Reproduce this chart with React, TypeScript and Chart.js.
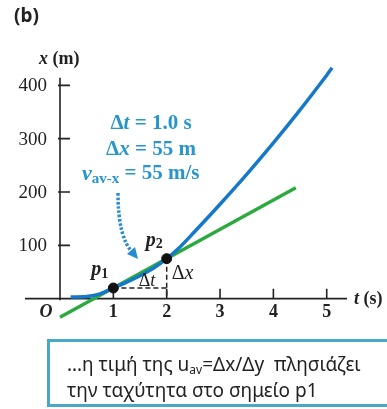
import React, { useEffect, useRef } from "react";
import { Chart, registerables } from "chart.js";

Chart.register(...registerables);

// ---- data ----
const curveT = [0.2, 0.5, 0.75, 1, 1.25, 1.5, 1.75, 2, 2.25, 2.5, 3, 3.5, 4, 4.5, 5, 5.1];
const curveX = [3, 4, 9, 20, 31, 43, 57, 75, 97, 123, 177, 233, 292, 354, 419, 433];
const tangentT = [0, 4.42];
const tangentX = [-35, 208];
const pointT = [1, 2];
const pointX = [20, 75];
const xTicks = [1, 2, 3, 4, 5];
const yTicks = [100, 200, 300, 400];
const xRange = [-0.656, 5.38];
const yRange = [-40, 440];

const SERIF = '"Liberation Serif", "DejaVu Serif", serif';
const SANS = '"Noto Sans", "Open Sans", sans-serif';
const BLUE_TEXT = "rgb(38,150,205)";

type Run = { t: string; f: string; dy?: number };

function drawRuns(
  ctx: CanvasRenderingContext2D,
  runs: Run[],
  x: number,
  y: number,
  align: "left" | "center" | "right"
) {
  let w = 0;
  for (const r of runs) {
    ctx.font = r.f;
    w += ctx.measureText(r.t).width;
  }
  let cx = align === "left" ? x : align === "center" ? x - w / 2 : x - w;
  ctx.textAlign = "left";
  for (const r of runs) {
    ctx.font = r.f;
    ctx.fillText(r.t, cx, y + (r.dy || 0));
    cx += ctx.measureText(r.t).width;
  }
}

const axesPlugin = {
  id: "physAxes",
  beforeDatasetsDraw(chart: any) {
    const { ctx } = chart;
    const xs = chart.scales.x;
    const ys = chart.scales.y;
    const x0 = xs.getPixelForValue(0);
    const y0 = ys.getPixelForValue(0);
    ctx.save();
    ctx.strokeStyle = "#222";
    ctx.lineWidth = 1.6;
    ctx.beginPath();
    ctx.moveTo(xs.getPixelForValue(xRange[0]), y0);
    ctx.lineTo(xs.getPixelForValue(xRange[1]), y0);
    ctx.moveTo(x0, ys.getPixelForValue(-3));
    ctx.lineTo(x0, ys.getPixelForValue(414));
    for (const v of yTicks) {
      const py = ys.getPixelForValue(v);
      ctx.moveTo(x0 - 2, py);
      ctx.lineTo(x0 + 10, py);
    }
    for (const v of xTicks) {
      const px = xs.getPixelForValue(v);
      ctx.moveTo(px, y0);
      ctx.lineTo(px, y0 - 10);
    }
    ctx.stroke();

    ctx.fillStyle = "#222";
    ctx.textBaseline = "middle";
    for (const v of yTicks) {
      drawRuns(ctx, [{ t: String(v), f: `19px ${SERIF}` }], x0 - 13, ys.getPixelForValue(v) + 1, "right");
    }
    for (const v of xTicks) {
      drawRuns(ctx, [{ t: String(v), f: `bold 18px ${SERIF}` }], xs.getPixelForValue(v), y0 + 14, "center");
    }
    drawRuns(ctx, [{ t: "O", f: `italic bold 18px ${SERIF}` }], x0 - 14, y0 + 14, "center");
    drawRuns(
      ctx,
      [
        { t: "t", f: `italic bold 18px ${SERIF}` },
        { t: " (s)", f: `bold 18px ${SERIF}` },
      ],
      xs.getPixelForValue(xRange[1]) + 7,
      y0 + 1,
      "left"
    );
    drawRuns(
      ctx,
      [
        { t: "x", f: `italic bold 18px ${SERIF}` },
        { t: " (m)", f: `bold 18px ${SERIF}` },
      ],
      x0 - 21,
      ys.getPixelForValue(449),
      "left"
    );
    ctx.restore();
  },
  afterDatasetsDraw(chart: any) {
    const { ctx } = chart;
    const xs = chart.scales.x;
    const ys = chart.scales.y;
    ctx.save();
    ctx.textBaseline = "middle";
    ctx.fillStyle = "#222";

    // (b)
    drawRuns(ctx, [{ t: "(b)", f: `bold 19px ${SANS}` }], 14, 17, "left");

    // p labels
    const p1x = xs.getPixelForValue(pointT[0]);
    const p1y = ys.getPixelForValue(pointX[0]);
    const p2x = xs.getPixelForValue(pointT[1]);
    const p2y = ys.getPixelForValue(pointX[1]);
    drawRuns(
      ctx,
      [
        { t: "p", f: `italic bold 20px ${SERIF}` },
        { t: "1", f: `bold 14px ${SERIF}`, dy: 4 },
      ],
      p1x - 22,
      p1y - 18,
      "left"
    );
    drawRuns(
      ctx,
      [
        { t: "p", f: `italic bold 20px ${SERIF}` },
        { t: "2", f: `bold 14px ${SERIF}`, dy: 4 },
      ],
      p2x - 21,
      p2y - 18,
      "left"
    );
    // Δt, Δx
    drawRuns(
      ctx,
      [
        { t: "Δ", f: `18px ${SERIF}` },
        { t: "t", f: `italic 18px ${SERIF}` },
      ],
      (p1x + p2x) / 2 + 7,
      p1y - 7,
      "center"
    );
    drawRuns(
      ctx,
      [
        { t: "Δ", f: `20px ${SERIF}` },
        { t: "x", f: `italic 20px ${SERIF}` },
      ],
      p2x + 5,
      (p2y + ys.getPixelForValue(0)) / 2 - 5,
      "left"
    );

    // blue annotation
    ctx.fillStyle = BLUE_TEXT;
    const bf = `bold 21px ${SERIF}`;
    const bi = `italic bold 21px ${SERIF}`;
    drawRuns(ctx, [{ t: "Δ", f: bf }, { t: "t", f: bi }, { t: " = 1.0 s", f: bf }], 151, 124, "center");
    drawRuns(ctx, [{ t: "Δ", f: bf }, { t: "x", f: bi }, { t: " = 55 m", f: bf }], 151, 150, "center");
    drawRuns(
      ctx,
      [
        { t: "v", f: `italic bold 22px ${SERIF}` },
        { t: "av-x", f: `bold 15px ${SERIF}`, dy: 5 },
        { t: " = 55 m/s", f: bf },
      ],
      82,
      174,
      "left"
    );

    // dotted arrow
    ctx.strokeStyle = "rgb(40,140,210)";
    ctx.lineWidth = 3.5;
    ctx.setLineDash([2.5, 1.8]);
    ctx.beginPath();
    ctx.moveTo(118, 193);
    ctx.quadraticCurveTo(118, 238, 133, 253);
    ctx.stroke();
    ctx.setLineDash([]);
    ctx.fillStyle = "rgb(40,140,210)";
    ctx.beginPath();
    ctx.moveTo(138, 259);
    ctx.lineTo(127, 254);
    ctx.lineTo(135, 247);
    ctx.closePath();
    ctx.fill();

    // note box
    ctx.strokeStyle = "rgb(72,168,200)";
    ctx.lineWidth = 3;
    ctx.strokeRect(48.5, 340.5, 342, 65);
    ctx.fillStyle = "#222";
    const nf = `19px ${SANS}`;
    drawRuns(
      ctx,
      [
        { t: "…η τιμή της u", f: nf },
        { t: "av", f: `12px ${SANS}`, dy: 5 },
        { t: "=Δx/Δy  πλησιάζει", f: nf },
      ],
      67,
      366,
      "left"
    );
    drawRuns(ctx, [{ t: "την ταχύτητα στο σημείο p1", f: nf }], 67, 392, "left");
    ctx.restore();
  },
};

export default function App() {
  const ref = useRef<HTMLCanvasElement | null>(null);
  useEffect(() => {
    if (!ref.current) return;
    const chart = new Chart(ref.current, {
      type: "scatter",
      data: {
        datasets: [
          {
            label: "p",
            data: pointT.map((t, i) => ({ x: t, y: pointX[i] })),
            pointRadius: 5,
            pointBackgroundColor: "#111",
            pointBorderColor: "#111",
            showLine: false,
            order: 0,
          },
          {
            label: "dt",
            data: [
              { x: pointT[0], y: pointX[0] },
              { x: pointT[1], y: pointX[0] },
            ],
            showLine: true,
            borderColor: "#222",
            borderWidth: 1.5,
            borderDash: [5, 3],
            pointRadius: 0,
            order: 1,
          },
          {
            label: "dx",
            data: [
              { x: pointT[1], y: pointX[1] },
              { x: pointT[1], y: 0 },
            ],
            showLine: true,
            borderColor: "#222",
            borderWidth: 1.5,
            borderDash: [5, 3],
            pointRadius: 0,
            order: 1,
          },
          {
            label: "curve",
            data: curveT.map((t, i) => ({ x: t, y: curveX[i] })),
            showLine: true,
            borderColor: "rgb(22,120,200)",
            borderWidth: 3.5,
            pointRadius: 0,
            tension: 0.3,
            order: 2,
          },
          {
            label: "tangent",
            data: tangentT.map((t, i) => ({ x: t, y: tangentX[i] })),
            showLine: true,
            borderColor: "rgb(44,170,64)",
            borderWidth: 3.5,
            pointRadius: 0,
            order: 3,
          },
        ],
      },
      options: {
        responsive: false,
        animation: false,
        layout: { padding: { left: 25, right: 40, top: 64, bottom: 89 } },
        plugins: { legend: { display: false }, tooltip: { enabled: false } },
        scales: {
          x: { type: "linear", min: xRange[0], max: xRange[1], display: false },
          y: { type: "linear", min: yRange[0], max: yRange[1], display: false },
        },
      },
      plugins: [axesPlugin],
    } as any);
    return () => chart.destroy();
  }, []);
  return (
    <div style={{ position: "absolute", left: 0, top: 0, width: 387, height: 409, background: "#fff" }}>
      <canvas ref={ref} width={387} height={409} style={{ display: "block" }} />
    </div>
  );
}
